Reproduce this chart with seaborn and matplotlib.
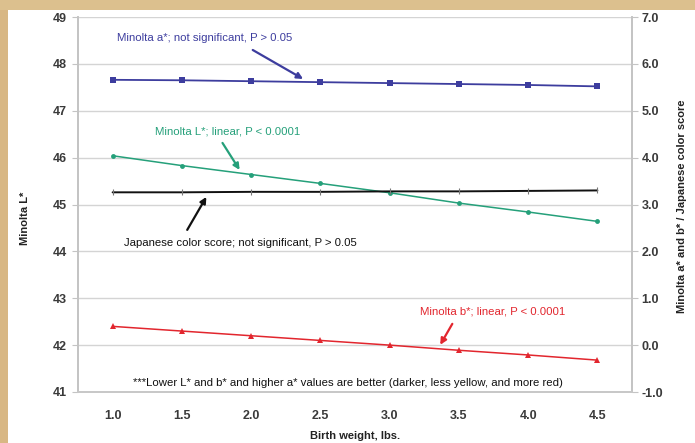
import matplotlib
matplotlib.use("Agg")
import matplotlib.pyplot as plt
import seaborn as sns
import pandas as pd
from matplotlib.patches import Rectangle

# ---- data ----
birth_weight = [1.0, 1.5, 2.0, 2.5, 3.0, 3.5, 4.0, 4.5]
minolta_L = [46.04, 45.83, 45.64, 45.45, 45.25, 45.03, 44.84, 44.64]
minolta_a = [5.66, 5.65, 5.63, 5.61, 5.59, 5.57, 5.55, 5.52]
minolta_b = [0.40, 0.30, 0.20, 0.10, 0.00, -0.11, -0.21, -0.32]
japanese_score = [3.26, 3.26, 3.27, 3.27, 3.28, 3.28, 3.29, 3.30]
left_ticks = [41, 42, 43, 44, 45, 46, 47, 48, 49]
right_ticks = [-1.0, 0.0, 1.0, 2.0, 3.0, 4.0, 5.0, 6.0, 7.0]

df = pd.DataFrame({"w": birth_weight, "L": minolta_L, "a": minolta_a,
                   "b": minolta_b, "j": japanese_score})

sns.set_theme(style="white")
plt.rcParams["font.family"] = ["Liberation Sans", "DejaVu Sans"]

BLUE = "#3d3d9e"
GREEN = "#25a07a"
RED = "#e2262e"
BLACK = "#111111"
TICKC = "#3a3a3a"

fig = plt.figure(figsize=(6.95, 4.43), dpi=100)
fig.patch.set_facecolor("white")
# parchment frame on top/left
fig.patches.append(Rectangle((0, 0), 8 / 695, 1, transform=fig.transFigure,
                             facecolor="#d8b784", edgecolor="none", zorder=0))
fig.patches.append(Rectangle((0, 1 - 10 / 443), 1, 10 / 443, transform=fig.transFigure,
                             facecolor="#dcc08e", edgecolor="none", zorder=0))

ax = fig.add_axes([78 / 695, 1 - 392 / 443, (632 - 78) / 695, (392 - 17) / 443])
ax2 = ax.twinx()

sns.lineplot(data=df, x="w", y="L", ax=ax, color=GREEN, marker="o", markersize=3.5,
             markeredgewidth=0, linewidth=1.1, legend=False, zorder=3)
sns.lineplot(data=df, x="w", y="a", ax=ax2, color=BLUE, marker="s", markersize=5,
             markeredgewidth=0, linewidth=1.3, legend=False, zorder=3)
sns.lineplot(data=df, x="w", y="j", ax=ax2, color=BLACK, marker="|", markersize=5,
             markeredgewidth=0.8, markeredgecolor="#777777", linewidth=1.4, legend=False, zorder=3)
sns.lineplot(data=df, x="w", y="b", ax=ax2, color=RED, marker="^", markersize=5,
             markeredgewidth=0, linewidth=1.1, legend=False, zorder=3)

ax.set_xlim(0.75, 4.75)
ax.set_ylim(41, 49)
ax2.set_ylim(-1, 7)
ax.set_xticks(birth_weight)
ax.set_xticklabels([f"{v:.1f}" for v in birth_weight])
ax.set_yticks(left_ticks)
ax.set_yticklabels([str(v) for v in left_ticks])
ax2.set_yticks(right_ticks)
ax2.set_yticklabels([f"{v:.1f}" for v in right_ticks])

ax.yaxis.grid(True, color="#d4d4d4", linewidth=1.0)
ax.set_axisbelow(True)
for a_ in (ax, ax2):
    a_.spines["top"].set_visible(False)
    a_.spines["left"].set_color("#c4c4c4")
    a_.spines["right"].set_color("#c4c4c4")
    a_.spines["bottom"].set_color("#c8c8c8")
    a_.spines["bottom"].set_linestyle((0, (2, 1)))
ax.tick_params(axis="y", left=True, length=4, width=0.8, color="#c4c4c4", pad=4,
               labelsize=9, labelcolor=TICKC)
ax.tick_params(axis="x", bottom=False, length=0, pad=13, labelsize=9, labelcolor=TICKC)
ax2.tick_params(axis="y", right=True, length=4, width=0.8, color="#c4c4c4", pad=3,
                labelsize=9, labelcolor=TICKC)
for lab in ax.get_yticklabels() + ax.get_xticklabels() + ax2.get_yticklabels():
    lab.set_fontweight("bold")

ax.set_xlabel("Birth weight, lbs.", fontsize=8, fontweight="bold", color="#222222")
ax.xaxis.set_label_coords(0.5, -0.105)
ax.set_ylabel("Minolta L*", fontsize=8, fontweight="bold", color="#222222")
ax.yaxis.set_label_coords(-0.087, 0.464)
ax2.set_ylabel("Minolta a* and b* / Japanese color score", fontsize=8,
               fontweight="bold", color="#222222", rotation=90)
ax2.yaxis.set_label_coords(1.082, 0.496)

def px2d(px, py):
    return (1.0 + (px - 114) / 137.4, 49 - (py - 17) / 46.9)

def note(text, tpos, tail, head, color, fs=8.2):
    ax.annotate("", xy=px2d(*head), xytext=px2d(*tail), xycoords="data",
                arrowprops=dict(arrowstyle="-|>", color=color, lw=1.6,
                                mutation_scale=9, shrinkA=0, shrinkB=0), zorder=5)
    ax.text(*px2d(*tpos), text, color=color, fontsize=fs, ha="center", va="center", zorder=5)

note("Minolta a*; not significant, P > 0.05", (205, 38), (253, 50), (303, 79), BLUE)
note("Minolta L*; linear, P < 0.0001", (228, 132), (223, 143), (240, 170), GREEN)
note("Japanese color score; not significant, P > 0.05", (241, 243), (188, 230), (207, 197), BLACK)
note("Minolta b*; linear, P < 0.0001", (491, 312), (451, 324), (439, 345), RED)
ax.text(*px2d(347, 383),
        "***Lower L* and b* and higher a* values are better (darker, less yellow, and more red)",
        color="#111111", fontsize=8.2, ha="center", va="center", zorder=5)

fig.savefig("out.png", dpi=100)
